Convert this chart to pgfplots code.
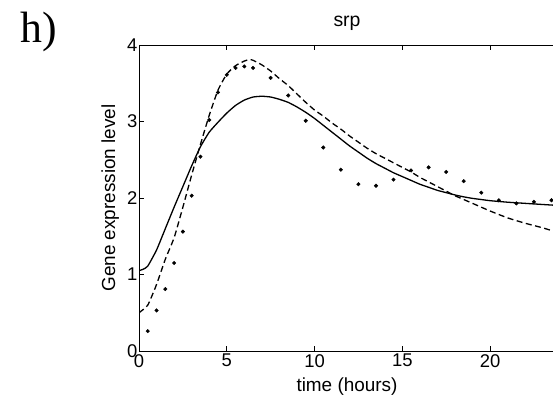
\documentclass[border=0pt]{standalone}
\usepackage{pgfplots}
\pgfplotsset{compat=1.18}
\usepackage{fontspec}
\setmainfont{Liberation Sans}
\newfontfamily\seriffont{Liberation Serif}
\begin{document}
\begin{tikzpicture}
\begin{axis}[
  at={(139bp,45bp)}, anchor=south west,
  scale only axis, width=416bp, height=306bp,
  xmin=0, xmax=23.7, ymin=0, ymax=4,
  xtick={0,5,10,15,20}, ytick={0,1,2,3,4},
  tick align=inside, major tick length=5bp,
  ytick pos=left,
  axis line style={line width=0.8bp},
  every tick/.style={black, line width=0.8bp},
  /pgf/number format/assume math mode=true,
  tick label style={font=\fontsize{18.5}{20}\selectfont},
  yticklabel style={inner sep=1.5bp},
  xticklabel style={inner sep=3bp},
  label style={font=\fontsize{19}{21}\selectfont},
  xlabel={time (hours)},
  xlabel style={at={(axis description cs:0.5,0)}, anchor=base, yshift=-40bp},
  ylabel={Gene expression level},
  ylabel shift=3bp,
  title={srp},
  title style={at={(axis description cs:0.5,1)}, anchor=base, yshift=13bp, font=\fontsize{19.5}{21}\selectfont},
  clip=true,
]
% measured data
\addplot[only marks, mark=*, mark size=1.8bp, black] coordinates {
(0.5,0.26) (1.0,0.53) (1.5,0.81) (2.0,1.15) (2.5,1.56) (3.0,2.03) (3.5,2.54)
(4.0,3.02) (4.5,3.38) (5.0,3.61) (5.5,3.70) (6.0,3.72) (6.5,3.70) (7.5,3.57)
(8.5,3.34) (9.5,3.01) (10.5,2.66) (11.5,2.37) (12.5,2.18) (13.5,2.16) (14.5,2.24)
(15.5,2.36) (16.5,2.40) (17.5,2.34) (18.5,2.22) (19.5,2.07) (20.5,1.97) (21.5,1.93)
(22.5,1.95) (23.5,1.97)
};
% solid model
\addplot[black, line width=1.3bp, smooth, tension=0.3] coordinates {
(0,1.05) (0.25,1.07) (0.5,1.11) (1.0,1.32) (1.5,1.60) (2.0,1.88) (2.5,2.15)
(3.0,2.42) (3.5,2.67) (4.0,2.86) (4.5,2.99) (5.0,3.11) (5.5,3.21) (6.0,3.28)
(6.5,3.32) (7.0,3.33) (7.5,3.32) (8.0,3.29) (8.5,3.25) (9.0,3.19) (9.5,3.12)
(10.0,3.04) (10.5,2.95) (11.0,2.86) (11.5,2.77) (12.0,2.68) (12.5,2.60) (13.0,2.52)
(13.5,2.45) (14.0,2.39) (14.5,2.33) (15.0,2.28) (15.5,2.23) (16.0,2.18) (16.5,2.14)
(17.0,2.10) (17.5,2.07) (18.0,2.04) (18.5,2.015) (19.0,1.995) (19.5,1.98) (20.0,1.965)
(21.0,1.945) (22.0,1.93) (23.0,1.915) (23.7,1.905)
};
% dashed model
\addplot[black, line width=1.3bp, dash pattern=on 6bp off 3.5bp, smooth, tension=0.3] coordinates {
(0,0.50) (0.5,0.60) (1.0,0.87) (1.5,1.20) (2.0,1.48) (2.5,1.88) (3.0,2.30)
(3.5,2.70) (4.0,3.08) (4.5,3.41) (5.0,3.62) (5.5,3.73) (6.0,3.79) (6.3,3.81)
(6.5,3.80) (7.0,3.74) (7.5,3.66) (8.0,3.56) (8.5,3.47) (9.0,3.36) (9.5,3.25)
(10.0,3.15) (10.5,3.07) (11.0,2.98) (11.5,2.90) (12.0,2.81) (12.5,2.73) (13.0,2.65)
(13.5,2.58) (14.0,2.52) (14.5,2.46) (15.0,2.40) (15.5,2.34) (16.0,2.27) (16.5,2.21)
(17.0,2.15) (17.5,2.09) (18.0,2.03) (18.5,1.98) (19.0,1.93) (19.5,1.88) (20.0,1.83)
(21.0,1.74) (22.0,1.67) (23.0,1.61) (23.7,1.56)
};
\end{axis}
\node[anchor=base west, inner sep=0pt, font=\seriffont\fontsize{44}{48}\selectfont] at (20bp,353bp) {h)};
\pgfresetboundingbox
\useasboundingbox (0,0) rectangle (553bp,396bp);
\end{tikzpicture}
\end{document}
